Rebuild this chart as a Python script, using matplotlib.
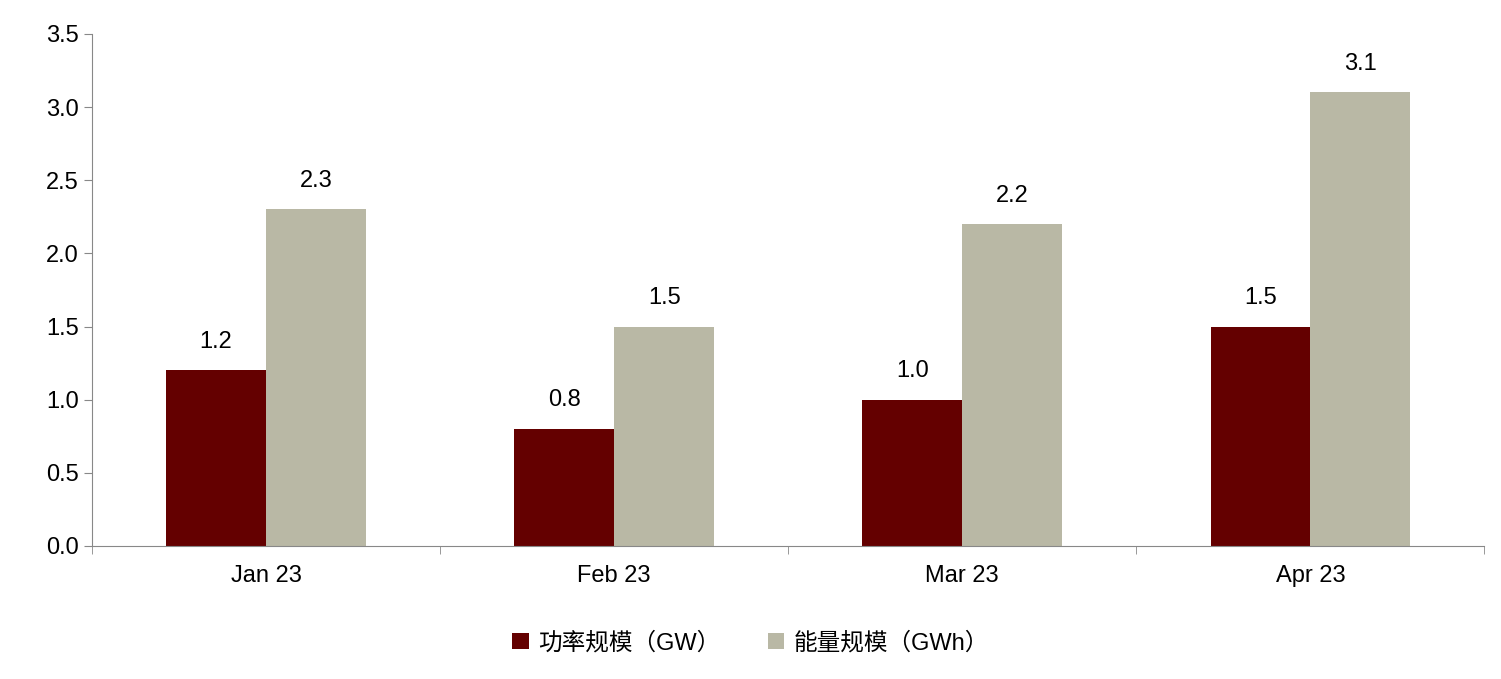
import matplotlib
matplotlib.use("Agg")
import matplotlib.pyplot as plt
import numpy as np

plt.rcParams['font.family'] = ['Liberation Sans', 'Noto Sans CJK SC', 'DejaVu Sans']

categories = ["Jan 23", "Feb 23", "Mar 23", "Apr 23"]
power = [1.2, 0.8, 1.0, 1.5]
energy = [2.3, 1.5, 2.2, 3.1]
labels = ["功率规模（GW）", "能量规模（GWh）"]

fig = plt.figure(figsize=(15.01, 6.79), dpi=100)
ax = fig.add_axes([0.0613, 0.196, 0.9277, 0.754])
x = np.arange(len(categories))
w = 0.287
b1 = ax.bar(x - w/2, power, w, color="#640000", label=labels[0])
b2 = ax.bar(x + w/2, energy, w, color="#B9B8A5", label=labels[1])
for bars, vals in ((b1, power), (b2, energy)):
    for r, v in zip(bars, vals):
        ax.text(r.get_x() + r.get_width()/2, v + 0.12, f"{v:.1f}",
                ha="center", va="bottom", fontsize=17)

ax.set_xlim(-0.5, 3.5)
ax.set_ylim(0, 3.5)
ax.set_yticks(np.arange(0, 3.51, 0.5))
ax.set_yticklabels([f"{v:.1f}" for v in np.arange(0, 3.51, 0.5)], fontsize=17)
ax.set_xticks(x)
ax.set_xticklabels(categories, fontsize=17)
ax.set_xticks(np.arange(-0.5, 3.6, 1), minor=True)
ax.tick_params(axis='x', which='major', length=0, pad=14)
ax.tick_params(axis='x', which='minor', length=6, color="#888888")
ax.tick_params(axis='y', length=6, color="#888888")
for s in ("top", "right"):
    ax.spines[s].set_visible(False)
for s in ("left", "bottom"):
    ax.spines[s].set_color("#888888")

fig.legend(handles=[b1, b2], loc="center", bbox_to_anchor=(0.5, 0.053), ncol=2,
           frameon=False, fontsize=17, handlelength=0.7, handleheight=0.7,
           columnspacing=2.0, handletextpad=0.4)
fig.savefig("out.png", dpi=100)
